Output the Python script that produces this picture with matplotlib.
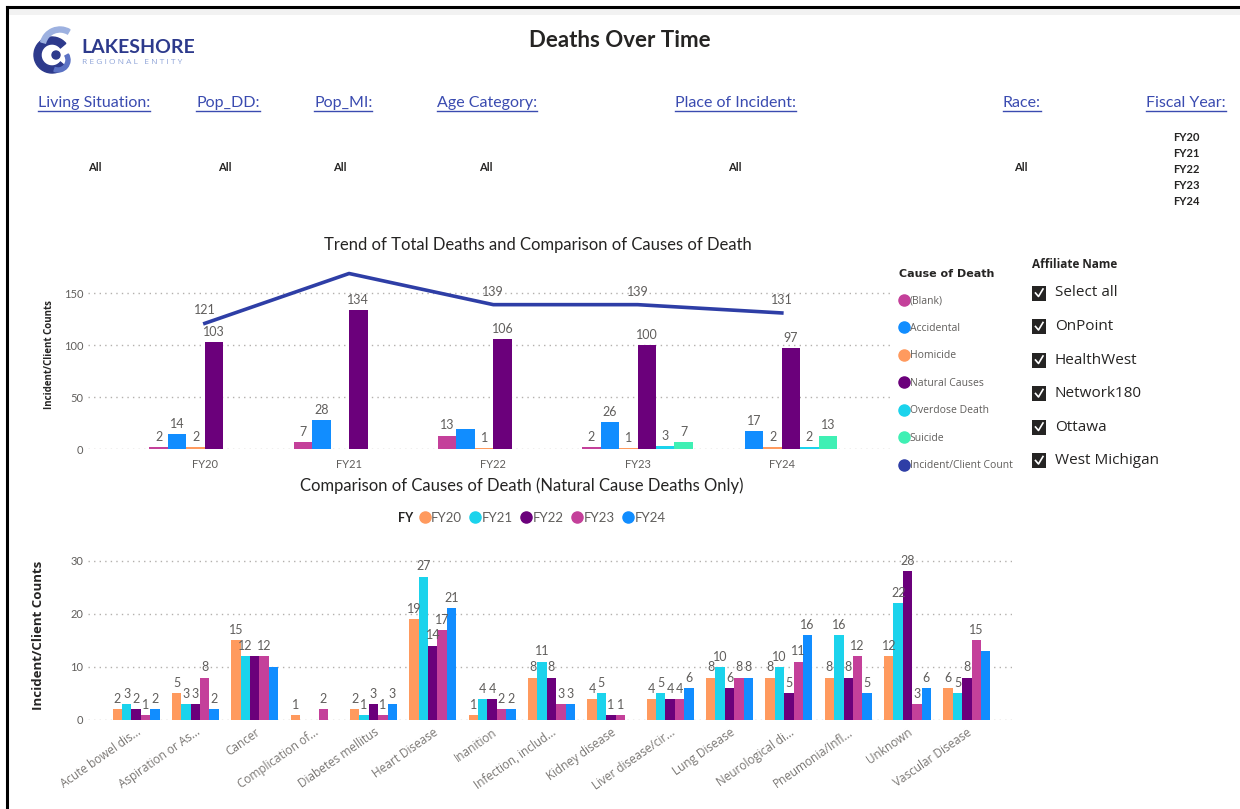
import numpy as np
import matplotlib.pyplot as plt
from matplotlib.patches import Rectangle, Wedge, Circle
from matplotlib.lines import Line2D

nan = np.nan

# fiscal years and cause-of-death breakdown (top chart)
years = ['FY20', 'FY21', 'FY22', 'FY23', 'FY24']
causes = ['(Blank)', 'Accidental', 'Homicide', 'Natural Causes', 'Overdose Death', 'Suicide']
blank = [2, 7, 13, 2, nan]
accidental = [14, 28, 19, 26, 17]
homicide = [2, nan, 1, 1, 2]
natural = [103, 134, 106, 100, 97]
overdose = [nan, nan, nan, 3, 2]
suicide = [nan, nan, nan, 7, 13]
total_count = [121, 169, 139, 139, 131]

# natural cause deaths by condition (bottom chart)
conditions = ['Acute bowel dis...', 'Aspiration or As...', 'Cancer', 'Complication of...',
              'Diabetes mellitus', 'Heart Disease', 'Inanition', 'Infection, includ...',
              'Kidney disease', 'Liver disease/cir...', 'Lung Disease', 'Neurological di...',
              'Pneumonia/Infl...', 'Unknown', 'Vascular Disease']
fy20 = [2, 5, 15, 1, 2, 19, 1, 8, 4, 4, 8, 8, 8, 12, 6]
fy21 = [3, 3, 12, nan, 1, 27, 4, 11, 5, 5, 10, 10, 16, 22, 5]
fy22 = [2, 3, 12, nan, 3, 14, 4, 8, 1, 4, 6, 5, 8, 28, 8]
fy23 = [1, 8, 12, 2, 1, 17, 2, 3, 1, 4, 8, 11, 12, 3, 15]
fy24 = [2, 2, 10, nan, 3, 21, 2, 3, nan, 6, 8, 16, 5, 6, 13]

# slicer headers and selections
filters = ['Living Situation:', 'Pop_DD:', 'Pop_MI:', 'Age Category:', 'Place of Incident:', 'Race:', 'Fiscal Year:']
affiliates = ['Select all', 'OnPoint', 'HealthWest', 'Network180', 'Ottawa', 'West Michigan']

# labels the report hides because they collide
hidden_top = {(1, 2)}
hidden_line = {1}
hidden_bottom = {(2, 2), (4, 2), (4, 14)}

C_PINK = '#C4409A'
C_BLUE = '#118DFF'
C_ORANGE = '#FF9A5E'
C_PURPLE = '#6B007B'
C_CYAN = '#1BD3EC'
C_MINT = '#3FF0B4'
C_NAVY = '#2E3EA6'
TXT = '#252423'
GREY = '#605E5C'
LINK = '#3A4BB0'

NARROW = ['Lato', 'DejaVu Sans']
UI = ['Open Sans', 'DejaVu Sans']

W, H = 1240, 809
fig = plt.figure(figsize=(W / 100, H / 100), dpi=100)
fig.patch.set_facecolor('white')


def box(l, t, r, b):
    return [l / W, 1 - b / H, (r - l) / W, (b - t) / H]


# page overlay in pixel coordinates
ov = fig.add_axes([0, 0, 1, 1])
ov.set_xlim(0, W)
ov.set_ylim(H, 0)
ov.axis('off')
ov.add_patch(Rectangle((9, 9), W, 6, color='#F2F2F2', lw=0))
ov.plot([7, W], [7, 7], color='black', lw=2.2)
ov.plot([7, 7], [7, H], color='black', lw=2.2)

# logo
ov.add_patch(Wedge((52, 55), 18, 40, 320, width=7, color='#2D3A8C'))
ov.add_patch(Wedge((60, 47), 20, 195, 300, width=5, color='#9DB1E0'))
ov.add_patch(Wedge((58, 60), 12, 330, 110, width=4, color='#5B72C4'))
ov.add_patch(Circle((56, 55), 4, color='#2D3A8C'))
ov.text(81, 47, 'LAKESHORE', fontsize=14, fontweight='bold', color='#2D3A8C',
        family=NARROW, va='center', ha='left')
ov.text(82, 62, 'R E G I O N A L   E N T I T Y', fontsize=6, color='#8FA4D8',
        family=UI, va='center', ha='left')

ov.text(620, 40, 'Deaths Over Time', fontsize=16, fontweight='bold', color=TXT,
        family=NARROW, ha='center', va='center')

filter_x = [38, 196, 314, 437, 675, 1003, 1146]
header_texts = []
for x, name in zip(filter_x, filters):
    header_texts.append(ov.text(x, 103, name, fontsize=11.5, color=LINK, family=NARROW,
                                ha='left', va='center'))
for x in [95, 225, 340, 486, 735, 1021]:
    ov.text(x, 167, 'All', fontsize=8, color=TXT, family=NARROW, fontweight='bold',
            ha='center', va='center')
for i, fy in enumerate(years):
    ov.text(1186, 137 + i * 16, fy, fontsize=8, color=TXT, family=NARROW, fontweight='bold',
            ha='center', va='center')

# affiliate slicer
ov.text(1032, 264, 'Affiliate Name', fontsize=8.5, fontweight='bold', color=TXT,
        family=UI, ha='left', va='center')
for i, name in enumerate(affiliates):
    y = 293 + i * 33.5
    ov.add_patch(Rectangle((1032, y - 7.5), 14, 15, color=TXT, lw=0))
    ov.plot([1035.5, 1038.5, 1043], [y, y + 3.5, y - 4], color='white', lw=1.2)
    ov.text(1055, y, name, fontsize=11, color=TXT, family=UI, ha='left', va='center')


def style_axes(ax):
    for s in ax.spines.values():
        s.set_visible(False)
    ax.tick_params(length=0, colors=GREY, labelsize=8)
    ax.yaxis.grid(True, linestyle=(0, (1, 3)), color='#B3B0AD', lw=1)
    ax.set_axisbelow(True)
    for t in ax.get_xticklabels() + ax.get_yticklabels():
        t.set_family(NARROW)


# top chart: causes of death per fiscal year with total line
ax1 = fig.add_axes(box(88, 260, 890, 449))
series_top = [blank, accidental, homicide, natural, overdose, suicide]
colors_top = [C_PINK, C_BLUE, C_ORANGE, C_PURPLE, C_CYAN, C_MINT]
x = np.arange(len(years))
bw = 0.128
for i, (vals, col) in enumerate(zip(series_top, colors_top)):
    pos = x + (i - 2.5) * bw
    ax1.bar(pos, vals, width=bw, color=col, label=causes[i])
    for j, v in enumerate(vals):
        if np.isnan(v) or (i, j) in hidden_top:
            continue
        ax1.annotate(f'{v:g}', (pos[j], v), xytext=(0, 3), textcoords='offset points',
                     ha='center', va='bottom', fontsize=9, color=GREY, family=NARROW)
ax1.plot(x, total_count, color=C_NAVY, lw=2.6, label='Incident/Client Count')
for j, v in enumerate(total_count):
    if j in hidden_line:
        continue
    ax1.annotate(f'{v}', (x[j], v), xytext=(0, 5), textcoords='offset points',
                 ha='center', va='bottom', fontsize=9, color=GREY, family=NARROW)
ax1.set_xlim(-0.81, 4.75)
ax1.set_ylim(0, 182)
ax1.set_yticks([0, 50, 100, 150])
ax1.set_xticks(x)
ax1.set_xticklabels(years)
style_axes(ax1)
ax1.tick_params(axis='x', pad=7)
ax1.set_ylabel('Incident/Client Counts', fontsize=7, fontweight='bold', color=TXT, family=UI, labelpad=6)
fig.text(538 / W, 1 - 245 / H, 'Trend of Total Deaths and Comparison of Causes of Death',
         fontsize=12, color=TXT, family=NARROW, ha='center', va='center')

handles = [Line2D([], [], marker='o', ls='none', ms=8, color=c) for c in colors_top + [C_NAVY]]
leg1 = fig.legend(handles, causes + ['Incident/Client Count'], loc='upper left',
                  bbox_to_anchor=(899 / W, 1 - 269 / H), frameon=False, fontsize=7.5,
                  title='Cause of Death', alignment='left', handletextpad=0.05,
                  handlelength=1.0, labelspacing=1.58, borderaxespad=0, borderpad=0)
leg1.get_title().set_fontsize(8)
leg1.get_title().set_fontweight('bold')
leg1.get_title().set_color(TXT)
for t in leg1.get_texts():
    t.set_color(GREY)
    t.set_family(UI)

# bottom chart: natural cause deaths by condition and fiscal year
ax2 = fig.add_axes(box(88, 550, 1012, 720))
series_bot = [fy20, fy21, fy22, fy23, fy24]
colors_bot = [C_ORANGE, C_CYAN, C_PURPLE, C_PINK, C_BLUE]
xc = np.arange(len(conditions))
bw2 = 0.158
for i, (vals, col) in enumerate(zip(series_bot, colors_bot)):
    pos = xc + (i - 2) * bw2
    ax2.bar(pos, vals, width=bw2, color=col, label=years[i])
    for j, v in enumerate(vals):
        if np.isnan(v) or (i, j) in hidden_bottom:
            continue
        ax2.annotate(f'{v:g}', (pos[j], v), xytext=(0, 3), textcoords='offset points',
                     ha='center', va='bottom', fontsize=9, color=GREY, family=NARROW)
ax2.set_xlim(-0.81, 14.76)
ax2.set_ylim(0, 32)
ax2.set_yticks([0, 10, 20, 30])
ax2.set_xticks(xc)
ax2.set_xticklabels(conditions, rotation=35, ha='right', rotation_mode='anchor')
style_axes(ax2)
for t in ax2.get_xticklabels():
    t.set_family(UI)
    t.set_fontsize(8.5)
    t.set_color('#7A7774')
ax2.tick_params(axis='x', pad=4)
ax2.set_ylabel('Incident/Client Counts', fontsize=9.5, fontweight='bold', color=TXT, family=UI, labelpad=18)

fig.text(522 / W, 1 - 486 / H, 'Comparison of Causes of Death (Natural Cause Deaths Only)',
         fontsize=12, color=TXT, family=NARROW, ha='center', va='center')
fig.text(406 / W, 1 - 518 / H, 'FY', fontsize=9, fontweight='bold', color=TXT,
         family=NARROW, ha='center', va='center')
h2 = [Line2D([], [], marker='o', ls='none', ms=8, color=c) for c in colors_bot]
leg2 = fig.legend(h2, years, loc='center left', bbox_to_anchor=(418 / W, 1 - 518 / H),
                  frameon=False, ncol=5, fontsize=9.5, handletextpad=0.0, handlelength=1.0,
                  columnspacing=0.5, borderaxespad=0, borderpad=0)
for t in leg2.get_texts():
    t.set_color(GREY)
    t.set_family(NARROW)

# underline the slicer headers
fig.canvas.draw()
for t in header_texts:
    bb = t.get_window_extent()
    ov.plot([bb.x0, bb.x1], [H - bb.y0 + 1, H - bb.y0 + 1], color=LINK, lw=1)

fig.savefig('out.png', dpi=100)
